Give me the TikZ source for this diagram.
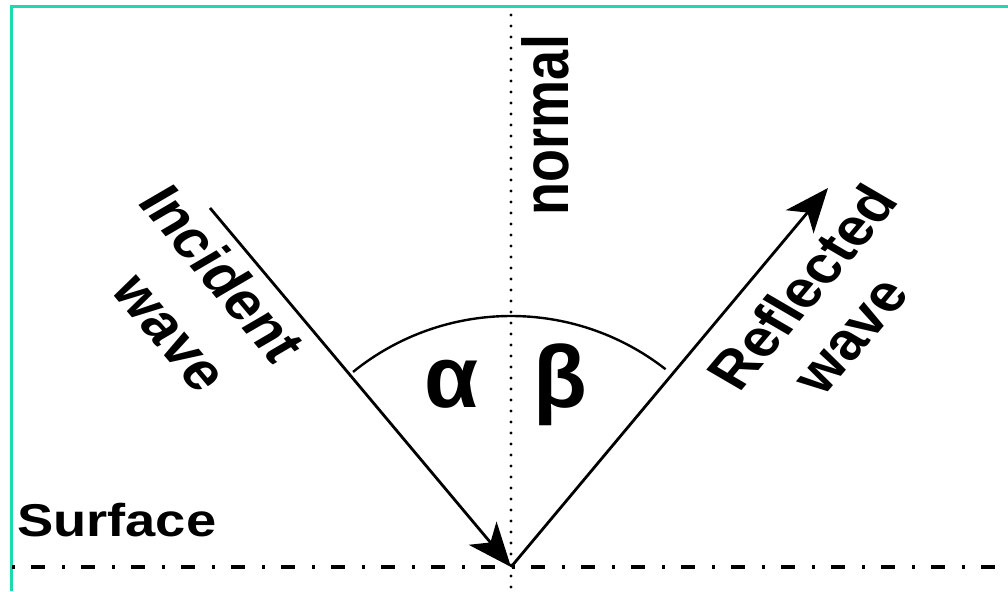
\documentclass[tikz,border=0pt]{standalone}
\usepackage{fontspec}
\setmainfont{Liberation Sans}
\usepackage{xcolor}
\usetikzlibrary{arrows.meta}
\definecolor{framegreen}{HTML}{1ED8B2}

\begin{document}
\begin{tikzpicture}[x=1pt,y=1pt,
  ray/.style={line width=2.8pt,-{Stealth[length=44pt,width=36pt,inset=12pt]}},
  wavelabel/.style={font=\bfseries\fontsize{52}{60}\selectfont,xscale=1.2,inner sep=0pt},
  greek/.style={font=\bfseries\fontsize{88}{100}\selectfont,inner sep=0pt,anchor=base}]
  \useasboundingbox (0,0) rectangle (1008,591);
  % frame
  \draw[framegreen,line width=2.2pt] (11.5,0) -- (11.5,584.5) -- (1008,584.5);
  % point of reflection and ends of the rays
  \coordinate (hit) at (511,24);
  \coordinate (inc) at (210,383);
  \coordinate (refl) at (828,403);
  \coordinate (ntop) at (511,576);
  \coordinate (nbot) at (511,0);
  \coordinate (sleft) at (12,24);
  \coordinate (sright) at (1008,24);
  % surface and normal
  \draw[line width=4pt,dash pattern=on 3pt off 16pt on 14pt off 17pt] (sleft) -- (sright);
  \draw[line width=3.2pt,line cap=round,dash pattern=on 0pt off 11pt] (ntop) -- (nbot);
  % rays
  \draw[ray] (inc) -- (hit);
  \draw[ray] (hit) -- (refl);
  % angle arc
  \draw[line width=2.4pt] (hit) ++(52:251) arc[start angle=52,end angle=129,radius=251];
  \node[greek] (alpha) at (452,183) {α};
  \node[greek] (beta) at (560,183) {β};
  % labels
  \node[wavelabel,rotate=-55] (incident) at (223,318) {Incident};
  \node[wavelabel,rotate=-55] (incwave) at (167,256) {wave};
  \node[wavelabel,rotate=55] (reflected) at (802,304) {Reflected};
  \node[wavelabel,rotate=55] (reflwave) at (854,253) {wave};
  \node[font=\bfseries\fontsize{54}{60}\selectfont,xscale=1.2,inner sep=0pt,rotate=90,anchor=base] (normal) at (568,466) {normal};
  \node[font=\bfseries\fontsize{46}{50}\selectfont,xscale=1.18,inner sep=0pt,anchor=base west] (surface) at (17,54) {Surface};
\end{tikzpicture}
\end{document}
